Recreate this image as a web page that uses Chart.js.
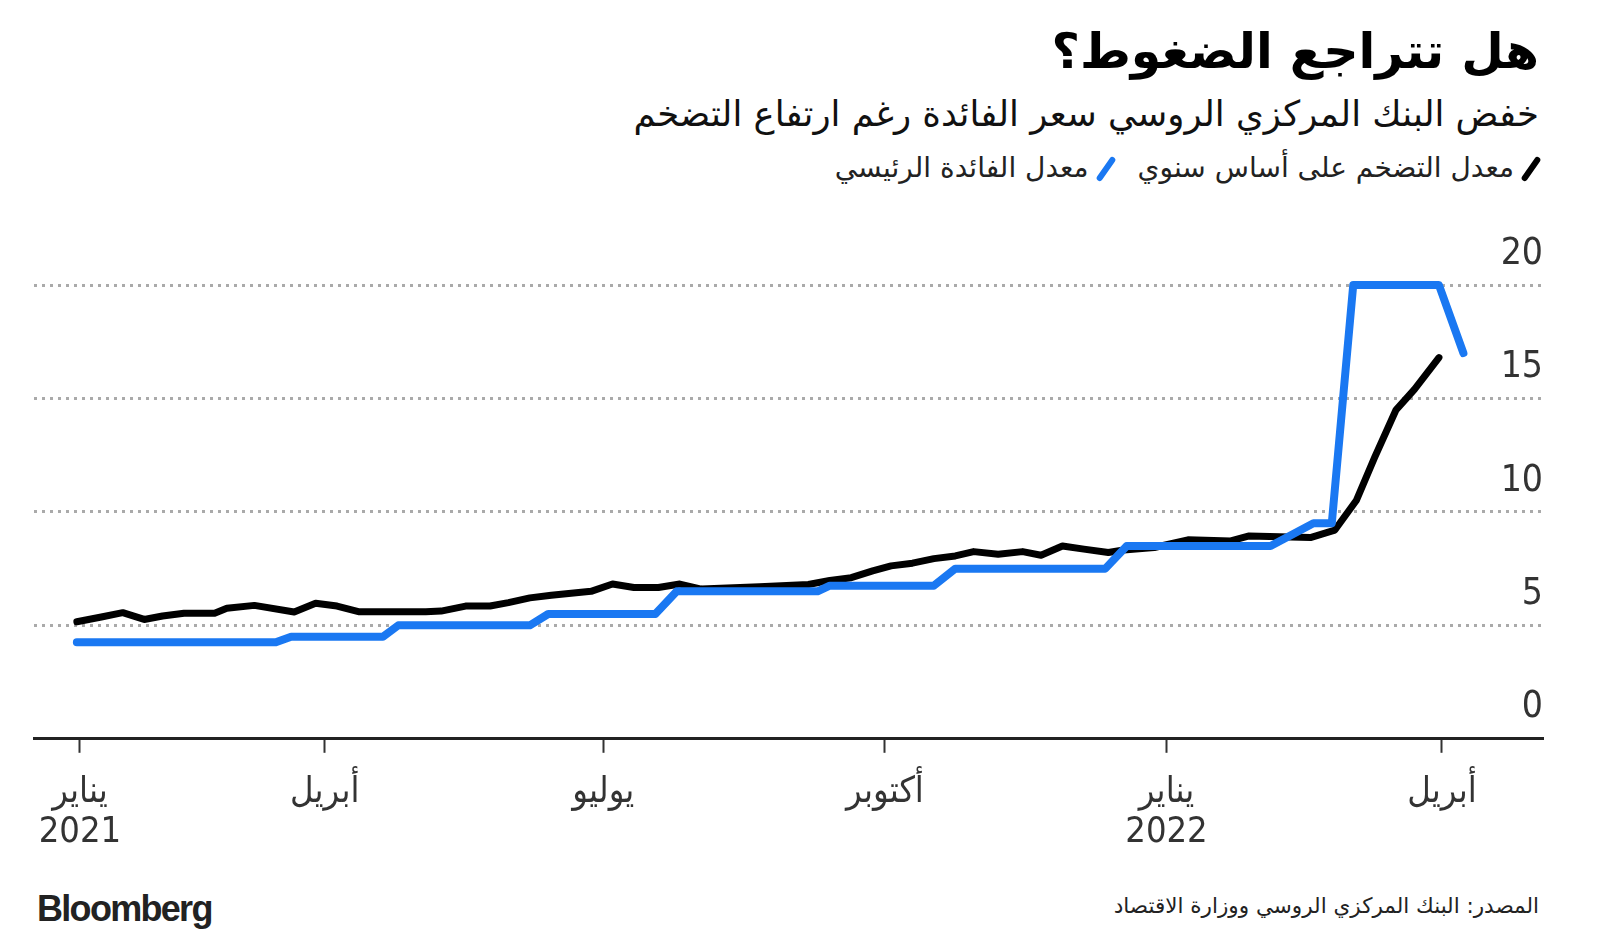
<!DOCTYPE html>
<html lang="ar">
<head>
<meta charset="utf-8">
<script src="https://cdn.jsdelivr.net/npm/chart.js@4.4.1/dist/chart.umd.min.js"></script>
<style>
  body { margin: 0; width: 1600px; height: 944px; background: #fff; position: relative; overflow: hidden; font-family: "DejaVu Sans", sans-serif; }
  .t { position: absolute; right: 61px; direction: rtl; white-space: nowrap; color: #111; }
  #title { top: 23px; font-size: 49px; font-weight: bold; color: #000; }
  #subtitle { top: 93px; font-size: 35.5px; }
  #legend { top: 151px; right: 66px; font-size: 28px; color: #222; }
  #legend .item { margin-left: 20px; }
  #legend .sw { display: inline-block; width: 6px; height: 28px; border-radius: 3px; transform: rotate(35deg); margin-left: 14px; vertical-align: middle; }
  #source { top: 893px; font-size: 21.5px; color: #222; }
  #logo { position: absolute; left: 37px; top: 888px; font-family: "Liberation Sans", Arial, sans-serif; font-weight: bold; font-size: 36px; letter-spacing: -1.7px; color: #222; }
  #wrap { position: absolute; left: 0; top: 200px; width: 1600px; height: 680px; }
</style>
</head>
<body>
<div id="title" class="t">هل تتراجع الضغوط؟</div>
<div id="subtitle" class="t">خفض البنك المركزي الروسي سعر الفائدة رغم ارتفاع التضخم</div>
<div id="legend" class="t">
  <span class="item"><i class="sw" style="background:#000"></i>معدل التضخم على أساس سنوي</span>
  <span class="item"><i class="sw" style="background:#1a78f2"></i>معدل الفائدة الرئيسي</span>
</div>
<div id="wrap"><canvas id="myChart"></canvas></div>
<div id="source" class="t">المصدر: البنك المركزي الروسي ووزارة الاقتصاد</div>
<div id="logo">Bloomberg</div>
<script>
	// 날짜축 범위 / 눈금
	var axisStart = '2020-12-27';
	var axisEnd = '2022-05-04';
	var tickDates = [ '2021-01-11', '2021-04-01', '2021-07-01', '2021-10-01', '2022-01-01', '2022-04-01' ];
	var tickMonths = [ 'يناير', 'أبريل', 'يوليو', 'أكتوبر', 'يناير', 'أبريل' ];
	var tickYears = [ '2021', '', '', '', '2022', '' ];
	var yTicks = [ 0, 5, 10, 15, 20 ];

	// 물가상승률 (연율, %)
	var inflationDates = [ '2021-01-10', '2021-01-18', '2021-01-25', '2021-02-01', '2021-02-07', '2021-02-14',
			'2021-02-24', '2021-02-28', '2021-03-09', '2021-03-22', '2021-03-29', '2021-04-05', '2021-04-12',
			'2021-05-04', '2021-05-09', '2021-05-17', '2021-05-25', '2021-05-31', '2021-06-07', '2021-06-14',
			'2021-06-27', '2021-07-04', '2021-07-11', '2021-07-19', '2021-07-26', '2021-08-02', '2021-08-21',
			'2021-09-06', '2021-09-13', '2021-09-20', '2021-09-27', '2021-10-03', '2021-10-10', '2021-10-17',
			'2021-10-24', '2021-10-30', '2021-11-07', '2021-11-15', '2021-11-21', '2021-11-28', '2021-12-05',
			'2021-12-13', '2021-12-18', '2021-12-28', '2022-01-08', '2022-01-22', '2022-01-28', '2022-02-17',
			'2022-02-25', '2022-03-04', '2022-03-10', '2022-03-17', '2022-03-23', '2022-03-31' ];
	var inflationValues = [ 5.16, 5.37, 5.56, 5.26, 5.41, 5.53,
			5.53, 5.75, 5.88, 5.59, 5.97, 5.85, 5.60,
			5.60, 5.63, 5.85, 5.85, 6.00, 6.21, 6.33,
			6.50, 6.82, 6.67, 6.67, 6.82, 6.60, 6.70,
			6.80, 6.98, 7.10, 7.40, 7.62, 7.74, 7.94,
			8.06, 8.25, 8.13, 8.25, 8.09, 8.50, 8.36,
			8.21, 8.32, 8.43, 8.77, 8.72, 8.94, 8.87,
			9.20, 10.5, 12.4, 14.5, 15.4, 16.8 ];

	// 기준금리 (%)
	var rateDates = [ '2021-01-10', '2021-03-16', '2021-03-21', '2021-04-20', '2021-04-25', '2021-06-07',
			'2021-06-13', '2021-07-18', '2021-07-25', '2021-09-09', '2021-09-13', '2021-10-17', '2021-10-24',
			'2021-12-12', '2021-12-19', '2022-02-04', '2022-02-18', '2022-02-24', '2022-03-03', '2022-03-31',
			'2022-04-08' ];
	var rateValues = [ 4.25, 4.25, 4.5, 4.5, 5.0, 5.0,
			5.5, 5.5, 6.5, 6.5, 6.75, 6.75, 7.5,
			7.5, 8.5, 8.5, 9.5, 9.5, 20, 20,
			17 ];

	function toDay(d) {
		return (Date.parse(d) - Date.parse('2021-01-01')) / 86400000;
	}
	function points(dates, values) {
		return dates.map(function(d, i) { return { x : toDay(d), y : values[i] }; });
	}

	var numFont = '"Liberation Sans Narrow", "DejaVu Sans Condensed", "DejaVu Sans", sans-serif';

	var ctx = document.getElementById('myChart');
	var myChart = new Chart(ctx, {
		type : 'line',
		data : {
			datasets : [ {
				label : 'معدل الفائدة الرئيسي',
				data : points(rateDates, rateValues),
				borderColor : '#1a78f2',
				borderWidth : 8,
				order : 0
			}, {
				label : 'معدل التضخم على أساس سنوي',
				data : points(inflationDates, inflationValues),
				borderColor : '#000',
				borderWidth : 7,
				order : 1
			} ]
		},
		options : {
			responsive : true,
			maintainAspectRatio : false,
			animation : false,
			layout : { padding : { left : 34, right : 57, top : 85, bottom : 8 } },
			elements : {
				point : { radius : 0 },
				line : { tension : 0, borderCapStyle : 'round', borderJoinStyle : 'round', fill : false }
			},
			datasets : { line : { clip : false } },
			plugins : { legend : { display : false }, tooltip : { enabled : false } },
			scales : {
				x : {
					type : 'linear',
					min : toDay(axisStart),
					max : toDay(axisEnd),
					afterBuildTicks : function(axis) {
						axis.ticks = tickDates.map(function(d) { return { value : toDay(d) }; });
					},
					ticks : {
						autoSkip : false,
						maxRotation : 0,
						padding : 20,
						color : '#333',
						font : { family : numFont, size : 36, lineHeight : 1.1 },
						callback : function(v, i) {
							return tickYears[i] ? [ tickMonths[i], tickYears[i] ] : tickMonths[i];
						}
					},
					grid : { drawOnChartArea : false, drawTicks : true, tickLength : 14, tickColor : '#333', tickWidth : 2 },
					border : { display : true, color : '#222', width : 3 }
				},
				y : {
					position : 'right',
					min : 0,
					max : 20,
					afterBuildTicks : function(axis) {
						axis.ticks = yTicks.map(function(v) { return { value : v }; });
					},
					ticks : {
						mirror : true,
						padding : 0,
						labelOffset : -31,
						color : '#333',
						font : { family : numFont, size : 37 }
					},
					grid : { drawTicks : false, color : '#aaa', lineWidth : 3 },
					border : { display : false, dash : [ 3, 5 ] }
				}
			}
		}
	});
</script>
</body>
</html>
